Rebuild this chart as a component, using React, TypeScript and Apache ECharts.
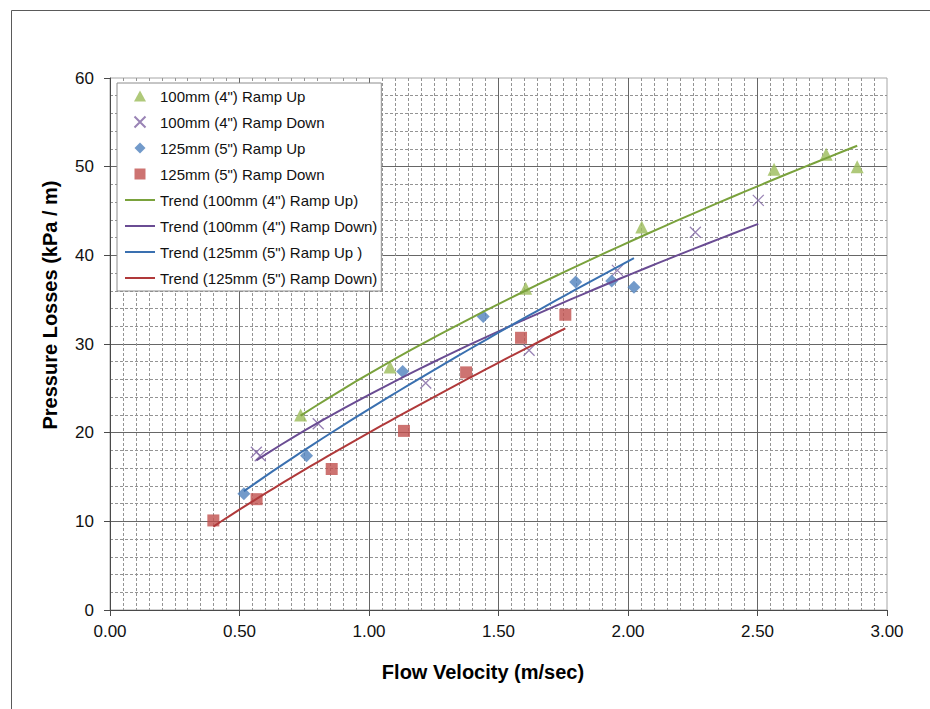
import React, { useEffect, useRef } from "react";
import * as echarts from "echarts";

// ---- Data ----
const up100X = [0.736, 1.081, 1.605, 2.053, 2.564, 2.765, 2.885];
const up100Y = [22.0, 27.4, 36.3, 43.2, 49.7, 51.4, 50.0];

const down100X = [0.565, 0.58, 0.804, 1.219, 1.618, 1.959, 2.26, 2.503];
const down100Y = [17.8, 17.4, 21.0, 25.6, 29.3, 38.3, 42.6, 46.2];

const up125X = [0.517, 0.759, 1.13, 1.441, 1.798, 1.937, 2.023];
const up125Y = [13.1, 17.4, 26.9, 33.1, 37.0, 37.1, 36.4];

const down125X = [0.399, 0.566, 0.856, 1.135, 1.375, 1.587, 1.758];
const down125Y = [10.1, 12.5, 15.9, 20.2, 26.8, 30.7, 33.3];

const seriesNames = [
  '100mm (4") Ramp Up',
  '100mm (4") Ramp Down',
  '125mm (5") Ramp Up',
  '125mm (5") Ramp Down',
];
const trendNames = [
  'Trend (100mm (4") Ramp Up)',
  'Trend (100mm (4") Ramp Down)',
  'Trend (125mm (5") Ramp Up )',
  'Trend (125mm (5") Ramp Down)',
];

const xTitle = "Flow Velocity (m/sec)";
const yTitle = "Pressure Losses (kPa / m)";

const FONT = "'Liberation Sans', Arial, sans-serif";

// power-law trendline (least squares in log-log space), like the spreadsheet's trendline
function powerTrend(xs: number[], ys: number[]): number[][] {
  const lx = xs.map(Math.log);
  const ly = ys.map(Math.log);
  const n = xs.length;
  const mx = lx.reduce((a, b) => a + b, 0) / n;
  const my = ly.reduce((a, b) => a + b, 0) / n;
  let sxy = 0;
  let sxx = 0;
  for (let i = 0; i < n; i++) {
    sxy += (lx[i] - mx) * (ly[i] - my);
    sxx += (lx[i] - mx) * (lx[i] - mx);
  }
  const b = sxy / sxx;
  const a = Math.exp(my - b * mx);
  const x0 = Math.min(...xs);
  const x1 = Math.max(...xs);
  const steps = 40;
  const pts: number[][] = [];
  for (let i = 0; i <= steps; i++) {
    const x = x0 + ((x1 - x0) * i) / steps;
    pts.push([x, a * Math.pow(x, b)]);
  }
  return pts;
}

const pair = (xs: number[], ys: number[]) => xs.map((x, i) => [x, ys[i]]);

export default function App() {
  const ref = useRef<HTMLDivElement>(null);

  useEffect(() => {
    if (!ref.current) return;
    const chart = echarts.init(ref.current, undefined, { renderer: "svg" });

    const markerColors = ["#9BBB59", "#8064A2", "#4F81BD", "#C0504D"];
    const lineColors = ["#7AA23C", "#6A4C93", "#3A70B0", "#B0393A"];
    const crossPath = "path://M0,0L10,10M10,0L0,10";
    const scatterSymbols = ["triangle", crossPath, "diamond", "rect"];
    const legendIcons = [
      "path://M6,0L12,11L0,11Z",
      crossPath,
      "path://M5,0L10,5L5,10L0,5Z",
      "path://M0,0H10V10H0Z",
    ];
    const lineIcon = "path://M0,0H30V2H0Z";

    const option: any = {
      animation: false,
      backgroundColor: "#ffffff",
      textStyle: { fontFamily: FONT },
      grid: {
        left: 110,
        right: 43,
        top: 78,
        bottom: 99,
        show: true,
        borderColor: "#a6a6a6",
        borderWidth: 1,
        backgroundColor: "transparent",
      },
      xAxis: {
        type: "value",
        min: 0,
        max: 3,
        interval: 0.5,
        axisLine: { show: true, onZero: false, lineStyle: { color: "#4a4a4a", width: 1 } },
        axisTick: { show: true, inside: false, length: 6, lineStyle: { color: "#4a4a4a" } },
        axisLabel: {
          color: "#111",
          fontSize: 17,
          fontFamily: FONT,
          margin: 13,
          formatter: (v: number) => v.toFixed(2),
        },
        splitLine: { show: true, showMaxLine: false, showMinLine: false, lineStyle: { color: "#666", width: 1 } },
        minorTick: { show: false, splitNumber: 10 },
        minorSplitLine: { show: true, lineStyle: { color: "#949494", width: 1, type: [3, 2] } },
      },
      yAxis: {
        type: "value",
        min: 0,
        max: 60,
        interval: 10,
        axisLine: { show: true, onZero: false, lineStyle: { color: "#4a4a4a", width: 1 } },
        axisTick: { show: true, inside: false, length: 6, lineStyle: { color: "#4a4a4a" } },
        axisLabel: { color: "#111", fontSize: 17, fontFamily: FONT, margin: 16 },
        splitLine: { show: true, showMaxLine: false, showMinLine: false, lineStyle: { color: "#666", width: 1 } },
        minorTick: { show: false, splitNumber: 5 },
        minorSplitLine: { show: true, lineStyle: { color: "#949494", width: 1, type: [3, 2] } },
      },
      legend: {
        orient: "vertical",
        left: 117,
        top: 83,
        padding: [5, 4, 5, 8],
        itemWidth: 30,
        itemHeight: 11,
        itemGap: 10,
        symbolKeepAspect: true,
        backgroundColor: "#ffffff",
        borderColor: "#8c8c8c",
        borderWidth: 1,
        borderRadius: 0,
        textStyle: { fontSize: 15, fontFamily: FONT, color: "#111", lineHeight: 16 },
        data: [
          ...seriesNames.map((name, i) => ({ name, icon: legendIcons[i] })),
          ...trendNames.map((name) => ({ name, icon: lineIcon })),
        ],
      },
      graphic: [
        {
          type: "rect",
          left: 9,
          top: 8,
          shape: { width: 940, height: 720 },
          style: { fill: "none", stroke: "#5a5a5a", lineWidth: 1 },
          silent: true,
          z: -10,
        },
        {
          type: "text",
          x: 483,
          y: 672,
          style: {
            text: xTitle,
            font: `bold 20px ${FONT}`,
            fill: "#000",
            textAlign: "center",
            textVerticalAlign: "middle",
          },
        },
        {
          type: "text",
          x: 50,
          y: 305,
          rotation: Math.PI / 2,
          style: {
            text: yTitle,
            font: `bold 20px ${FONT}`,
            fill: "#000",
            textAlign: "center",
            textVerticalAlign: "middle",
          },
        },
      ],
      series: [
        {
          name: seriesNames[0],
          type: "scatter",
          symbol: scatterSymbols[0],
          symbolSize: 13,
          symbolKeepAspect: true,
          itemStyle: { color: markerColors[0] },
          data: pair(up100X, up100Y),
          z: 3,
        },
        {
          name: seriesNames[1],
          type: "scatter",
          symbol: scatterSymbols[1],
          symbolSize: 11,
          symbolKeepAspect: true,
          itemStyle: { color: "rgba(0,0,0,0)", borderColor: markerColors[1], borderWidth: 1.3 },
          data: pair(down100X, down100Y),
          z: 3,
        },
        {
          name: seriesNames[2],
          type: "scatter",
          symbol: scatterSymbols[2],
          symbolSize: 13,
          symbolKeepAspect: true,
          itemStyle: { color: markerColors[2] },
          data: pair(up125X, up125Y),
          z: 3,
        },
        {
          name: seriesNames[3],
          type: "scatter",
          symbol: scatterSymbols[3],
          symbolSize: 12,
          symbolKeepAspect: true,
          itemStyle: { color: markerColors[3] },
          data: pair(down125X, down125Y),
          z: 3,
        },
        ...[
          [up100X, up100Y],
          [down100X, down100Y],
          [up125X, up125Y],
          [down125X, down125Y],
        ].map(([xs, ys], i) => ({
          name: trendNames[i],
          type: "line",
          symbol: "none",
          showSymbol: false,
          symbolKeepAspect: true,
          smooth: false,
          lineStyle: { color: lineColors[i], width: 2 },
          itemStyle: { color: lineColors[i] },
          data: powerTrend(xs as number[], ys as number[]),
          z: 4,
        })),
      ],
    };

    chart.setOption(option);
    return () => chart.dispose();
  }, []);

  return (
    <div
      ref={ref}
      style={{ position: "absolute", left: 0, top: 0, width: 930, height: 709 }}
    />
  );
}
